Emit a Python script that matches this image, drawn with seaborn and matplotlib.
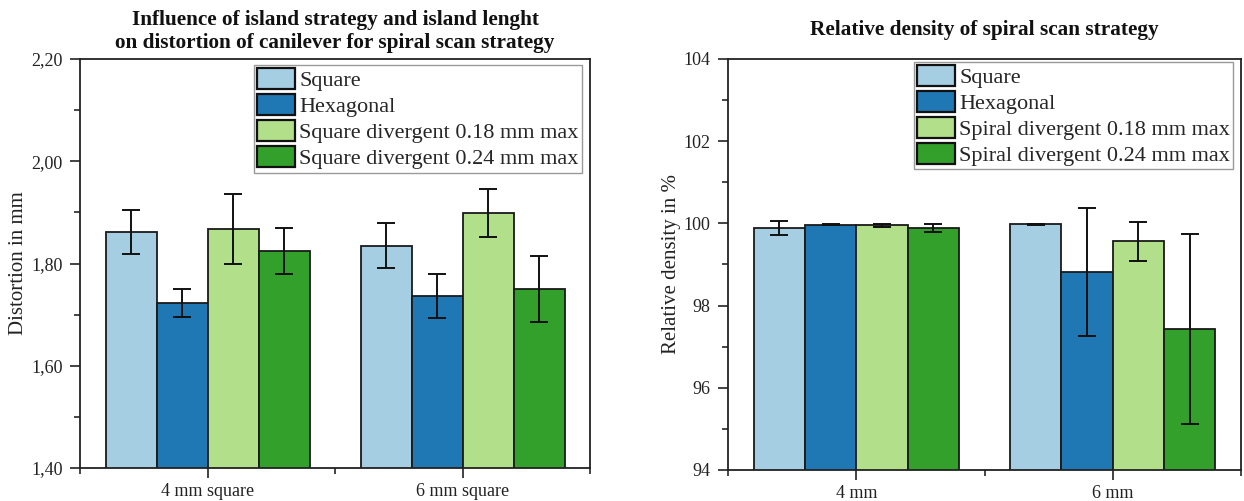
import numpy as np
import pandas as pd
import matplotlib
matplotlib.use("Agg")
import matplotlib.pyplot as plt
from matplotlib.patches import Patch
from matplotlib.ticker import FuncFormatter, MultipleLocator
import seaborn as sns

# ---------------- data ----------------
groups_left = ["4 mm square", "6 mm square"]
series_left = ["Square", "Hexagonal", "Square divergent 0.18 mm max", "Square divergent 0.24 mm max"]
dist_square = [1.862, 1.835]
dist_hexagonal = [1.723, 1.737]
dist_div018 = [1.867, 1.899]
dist_div024 = [1.824, 1.750]
dist_err_square = [0.043, 0.044]
dist_err_hexagonal = [0.027, 0.043]
dist_err_div018 = [0.068, 0.047]
dist_err_div024 = [0.045, 0.064]

groups_right = ["4 mm", "6 mm"]
series_right = ["Square", "Hexagonal", "Spiral divergent 0.18 mm max", "Spiral divergent 0.24 mm max"]
dens_square = [99.89, 99.98]
dens_hexagonal = [99.97, 98.82]
dens_div018 = [99.95, 99.56]
dens_div024 = [99.89, 97.43]
dens_err_square = [0.17, 0.01]
dens_err_hexagonal = [0.02, 1.55]
dens_err_div018 = [0.04, 0.48]
dens_err_div024 = [0.10, 2.30]

colors = ["#a6cee3", "#1f78b4", "#b2df8a", "#33a02c"]

left_yticks = [1.40, 1.60, 1.80, 2.00, 2.20]
right_yticks = [94, 96, 98, 100, 102, 104]

# ---------------- style ----------------
sns.set_theme(style="ticks")
plt.rcParams["font.family"] = ["Liberation Serif", "DejaVu Serif"]

W, H = 1244, 501
fig = plt.figure(figsize=(W / 100, H / 100), dpi=100)
axL = fig.add_axes([80 / W, (H - 468) / H, 510 / W, 409 / H])
axR = fig.add_axes([728 / W, (H - 470) / H, 513 / W, 411 / H])


def long_df(groups, series, values, errs):
    rows = []
    for s, vals, es in zip(series, values, errs):
        for g, v, e in zip(groups, vals, es):
            rows.append({"group": g, "series": s, "value": v, "err": e})
    return pd.DataFrame(rows)


def draw(ax, df, series, groups, ylim, yticks, fmt, minor, ylabel, title, title_pad, legend_anchor):
    sns.barplot(data=df, x="group", y="value", hue="series", hue_order=series,
                order=groups, palette=colors, saturation=1, edgecolor="#1a1a1a",
                linewidth=1.3, errorbar=None, width=0.8, ax=ax, legend=False)
    for cont, s in zip(ax.containers, series):
        sub = df[df["series"] == s].set_index("group").loc[groups]
        for bar, v, e in zip(cont, sub["value"], sub["err"]):
            x = bar.get_x() + bar.get_width() / 2
            ax.errorbar(x, v, yerr=e, fmt="none", ecolor="#111111",
                        elinewidth=1.4, capsize=6.5, capthick=1.4, zorder=5)
    ax.set_ylim(*ylim)
    ax.set_xlim(-0.5, 1.5)
    ax.set_yticks(yticks)
    ax.yaxis.set_major_formatter(FuncFormatter(fmt))
    ax.yaxis.set_minor_locator(MultipleLocator(minor))
    ax.xaxis.set_minor_locator(MultipleLocator(0.5))
    ax.tick_params(axis="both", which="major", direction="out", length=7,
                   width=1.2, labelsize=13, colors="#222222", pad=3.5)
    ax.tick_params(axis="y", which="major", pad=5.5)
    ax.tick_params(axis="both", which="minor", direction="out", length=4, width=1.2)
    ax.tick_params(axis="x", which="minor", bottom=True)
    ax.set_xlabel("")
    ax.set_ylabel(ylabel, fontsize=15, color="#222222", labelpad=2)
    ax.set_title(title, fontsize=15.3, fontweight="bold", pad=title_pad, color="#111111")
    for sp in ax.spines.values():
        sp.set_visible(True)
        sp.set_linewidth(1.3)
        sp.set_color("#222222")
    handles = [Patch(facecolor=c, edgecolor="#111111", linewidth=1.6, label=s)
               for c, s in zip(colors, series)]
    leg = ax.legend(handles=handles, loc="upper right", bbox_to_anchor=legend_anchor,
                    borderaxespad=0, fontsize=16, frameon=True, fancybox=False,
                    framealpha=1, edgecolor="#9a9a9a", handlelength=1.7,
                    handleheight=1.05, handletextpad=0.2, labelspacing=0.14,
                    borderpad=0.15)
    leg.get_frame().set_linewidth(1.0)


dfL = long_df(groups_left, series_left,
              [dist_square, dist_hexagonal, dist_div018, dist_div024],
              [dist_err_square, dist_err_hexagonal, dist_err_div018, dist_err_div024])
dfR = long_df(groups_right, series_right,
              [dens_square, dens_hexagonal, dens_div018, dens_div024],
              [dens_err_square, dens_err_hexagonal, dens_err_div018, dens_err_div024])

draw(axL, dfL, series_left, groups_left, (1.40, 2.20), left_yticks,
     lambda v, p: f"{v:.2f}".replace(".", ","), 0.1, "Distortion in mm",
     "Influence of island strategy and island lenght\non distortion of canilever for spiral scan strategy",
     8, (0.984, 0.985))
draw(axR, dfR, series_right, groups_right, (94, 104), right_yticks,
     lambda v, p: f"{v:.0f}", 1, "Relative density in %",
     "Relative density of spiral scan strategy", 17, (0.985, 0.993))

fig.savefig("out.png", dpi=100)
